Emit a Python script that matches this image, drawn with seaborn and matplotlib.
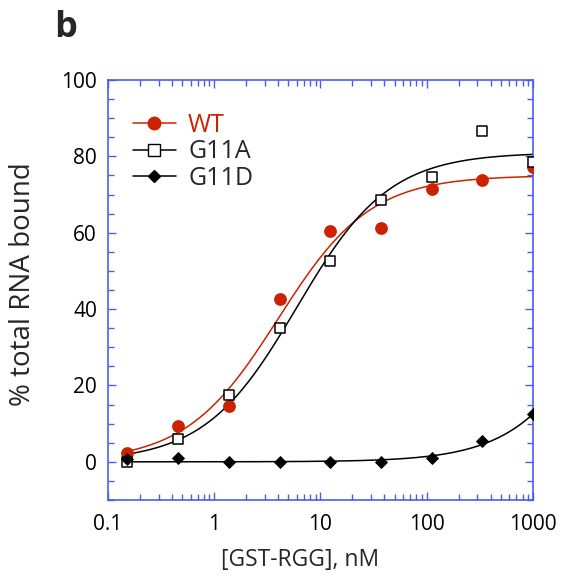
import numpy as np
import pandas as pd
import matplotlib
matplotlib.use("Agg")
import matplotlib.pyplot as plt
from matplotlib.lines import Line2D
from matplotlib.ticker import LogLocator, MultipleLocator, NullFormatter, FixedLocator, FixedFormatter
import seaborn as sns

# protein concentrations (3-fold dilution series), nM
conc = [0.152, 0.457, 1.37, 4.12, 12.3, 37.0, 111, 333, 1000]

# % total RNA bound
wt = [2.3, 9.3, 14.5, 42.7, 60.5, 61.3, 71.5, 73.8, 77.3]
g11a = [0.0, 6.1, 17.4, 35.0, 52.7, 68.5, 74.6, 86.6, 78.6]
g11d = [0.8, 1.0, 0.0, 0.0, 0.0, 0.0, 1.0, 5.4, 12.6]

# fitted binding-curve parameters (Bmax, Kd in nM)
fit_bmax = {"WT": 75.0, "G11A": 81.0, "G11D": 100.0}
fit_kd = {"WT": 4.0, "G11A": 6.0, "G11D": 7000.0}

series = ["WT", "G11A", "G11D"]
colors = {"WT": "#cc2200", "G11A": "black", "G11D": "black"}
axis_blue = "#4a5cf0"

points = pd.DataFrame({
    "conc": conc * 3,
    "bound": wt + g11a + g11d,
    "protein": [s for s in series for _ in conc],
})

xfit = np.geomspace(conc[0], conc[-1], 200)
curves = pd.concat([
    pd.DataFrame({"conc": xfit,
                  "bound": fit_bmax[s] * xfit / (fit_kd[s] + xfit),
                  "protein": s})
    for s in series
])

sns.set_style("ticks")
plt.rcParams["font.family"] = ["Open Sans", "DejaVu Sans"]

fig = plt.figure(figsize=(5.61, 5.75), dpi=100)
ax = fig.add_axes([0.1925, 0.1304, 0.7575, 0.7305])

sns.lineplot(data=curves, x="conc", y="bound", hue="protein", palette=colors,
             linewidth=1.1, legend=False, ax=ax, zorder=2)

# WT: filled red circles
sns.scatterplot(data=points[points.protein == "WT"], x="conc", y="bound",
                color=colors["WT"], marker="o", s=85, edgecolor=colors["WT"],
                linewidth=0, legend=False, ax=ax, zorder=3)
# G11A: open squares
sns.scatterplot(data=points[points.protein == "G11A"], x="conc", y="bound",
                marker="s", s=62, facecolor="white", edgecolor="black",
                linewidth=1.1, legend=False, ax=ax, zorder=4)
# G11D: filled diamonds
sns.scatterplot(data=points[points.protein == "G11D"], x="conc", y="bound",
                marker="D", s=45, color="black", edgecolor="black",
                linewidth=0, legend=False, ax=ax, zorder=4)

ax.set_xscale("log")
ax.set_xlim(0.1, 1000)
ax.set_ylim(-10, 100)

ax.xaxis.set_major_locator(FixedLocator([0.1, 1, 10, 100, 1000]))
ax.xaxis.set_major_formatter(FixedFormatter(["0.1", "1", "10", "100", "1000"]))
ax.xaxis.set_minor_locator(LogLocator(base=10, subs=np.arange(2, 10)))
ax.xaxis.set_minor_formatter(NullFormatter())
ax.yaxis.set_major_locator(MultipleLocator(20))
ax.yaxis.set_minor_locator(MultipleLocator(5))
ax.set_yticks([0, 20, 40, 60, 80, 100])

for sp in ax.spines.values():
    sp.set_visible(True)
    sp.set_color(axis_blue)
    sp.set_linewidth(1.2)

ax.tick_params(which="both", direction="in", top=True, right=True,
               color=axis_blue, width=1.0, labelsize=15, labelcolor="black")
ax.tick_params(axis="x", pad=10)
ax.tick_params(axis="y", pad=8)
ax.tick_params(which="major", length=6)
ax.tick_params(which="minor", length=4)

ax.set_xlabel("")
ax.set_ylabel("% total RNA bound", fontsize=20)
ax.yaxis.set_label_coords(-0.168, 0.515)
fig.text(300 / 561, 1 - 566 / 575, "[GST-RGG], nM", fontsize=16.5,
         ha="center", va="baseline")

handles = [
    Line2D([], [], color=colors["WT"], marker="o", markersize=9, linewidth=1.1),
    Line2D([], [], color="black", marker="s", markersize=8, markerfacecolor="white",
           linewidth=1.1),
    Line2D([], [], color="black", marker="D", markersize=6.5, linewidth=1.1),
]
leg = ax.legend(handles, series, loc="upper left", bbox_to_anchor=(0.059, 0.921),
                frameon=False, fontsize=18, handlelength=1.7, handletextpad=0.5,
                labelspacing=0.05, borderaxespad=0, borderpad=0)
leg.get_texts()[0].set_color(colors["WT"])

fig.text(54 / 561, 1 - 37 / 575, "b", fontsize=26, fontweight="bold",
         ha="left", va="baseline")

fig.savefig("out.png", dpi=100)
